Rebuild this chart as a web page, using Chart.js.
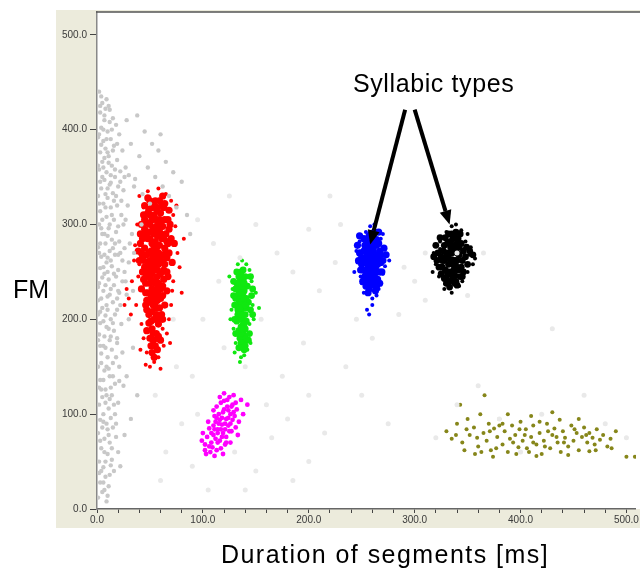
<!DOCTYPE html>
<html>
<head>
<meta charset="utf-8">
<script src="https://cdn.jsdelivr.net/npm/chart.js@4.4.1/dist/chart.umd.min.js"></script>
<style>
  html, body { margin: 0; padding: 0; background: #fff; }
  #wrap { position: relative; width: 640px; height: 571px; overflow: hidden; }
  canvas { position: absolute; left: 0; top: 0; }
  .lbl { position: absolute; font-family: 'Liberation Sans', Arial, sans-serif; font-size: 25px; line-height: 25px; color: #000; white-space: nowrap; }
</style>
</head>
<body>
<div id="wrap">
  <canvas id="c" width="640" height="571"></canvas>
  <div class="lbl" style="left:13px;top:277px">FM</div>
  <div class="lbl" style="left:353px;top:71px;letter-spacing:0.6px">Syllabic types</div>
  <div class="lbl" style="left:221px;top:542px;letter-spacing:1.45px">Duration of segments [ms]</div>
</div>
<script>
// axis ticks
const xTickStep = 20
const xLabelEvery = 100
const yTickStep = 100

// background cloud of unclassified segments (duration ms, FM)
const grayPts = [
  [2,440],[5,428],[9,432],[3,418],[12,421],[7,410],[15,412],[4,402],[10,398],[18,405],[1,392],[6,388],[13,390],[21,395],[8,380],[3,376],[16,383],[11,372],[24,378],[5,366],[14,362],[19,368],[2,358],[9,355],[27,360],[7,347],[17,350],[12,342],[22,345],[4,338],[30,352],[15,333],[1,330],[10,328],[25,336],[35,340],
  [6,322],[13,318],[3,314],[19,320],[9,308],[16,305],[2,300],[23,310],[11,296],[5,290],[18,292],[14,284],[8,280],[1,276],[21,282],[12,272],[4,266],[17,268],[9,260],[26,275],[3,254],[14,256],[7,248],[20,252],[11,242],[2,238],[16,236],[6,230],[24,240],[10,224],[1,220],[15,218],[5,212],[19,210],[8,204],[13,200],[28,226],[22,215],[3,196],[30,260],[33,290],[27,305],
  [9,192],[16,188],[2,184],[12,178],[6,172],[19,175],[4,164],[10,160],[15,154],[1,150],[7,146],[21,150],[12,140],[3,136],[17,132],[8,126],[5,118],[14,120],[2,110],[11,106],[20,112],[6,100],[25,130],[24,165],
  [3,94],[9,90],[15,86],[1,80],[7,74],[12,70],[4,64],[18,76],[10,58],[2,50],[14,52],[6,44],[8,34],[3,28],[11,24],[16,40],[5,18],[1,12],[9,8],[20,60],[7,60],[13,96],
  [38,415],[45,398],[52,385],[40,372],[58,378],[65,366],[48,360],[72,355],[36,348],[55,350],[62,340],[80,345],[43,332],[68,330],[50,322],[75,318],[85,310],[32,385],[28,410],[42,300],[88,290],[35,270],[60,395],[30,200],[34,170],[28,140],[32,95],[26,78],[38,120],
  [4,435],[11,425],[7,415],[14,400],[2,395],[19,385],[10,376],[6,360],[13,352],[20,340],[3,345],[8,332],[16,325],[23,325],[5,305],[12,300],[20,298],[7,290],[15,275],[3,280],[24,262],[10,265],[6,255],[18,245],[13,232],[4,222],[21,228],[9,215],[17,205],[1,205],[11,190],[23,195],[7,182],[14,168],[3,172],[18,160],[9,150],[13,128],[4,126],[16,110],[8,112],[10,84],[5,86],[14,64],[4,40],[12,36],[7,20],[17,100],[26,350],[29,320],[31,280],[26,250],[34,230],[20,230],
  [3,425],[8,422],[6,400],[12,408],[9,390],[4,384],[15,378],[11,365],[1,362],[17,358],[7,370],[13,344],[5,350],[10,338],[18,330],[2,322],[8,318],[14,310],[4,296],[10,288],[17,280],[2,270],[7,268],[13,262],[20,268],[5,244],[10,250],[16,248],[1,234],[8,236],[12,226],[19,222],[3,208],[10,210],[6,198],[15,196],[1,178],[8,170],[13,182],[4,154],[11,148],[6,136],[9,120],[15,140],[2,128],[12,116],[6,92],[11,78],[3,72],[8,50],[13,46],[2,38],[6,28],[10,14],[22,356],[25,300],[22,270],[27,240],[19,180],[21,135],[18,90],[22,45]
]
const faintPts = [
  [95,305],[110,280],[125,330],[150,300],[170,270],[185,250],[200,295],[210,230],[225,260],[195,175],[175,140],[160,110],[140,150],[120,170],[100,200],[90,140],[80,90],[130,60],[150,40],[105,20],[165,75],[180,95],[200,120],[215,80],[235,150],[245,200],[290,255],[300,240],[310,270],[285,205],[230,300],[260,180],[250,120],[275,90],[320,75],[340,110],[360,130],[380,95],[400,60],[420,100],[460,120],[480,90],[500,75],[430,190],[350,225],[365,270],[310,220],[200,50],[185,30],[140,20],[115,240],[135,265],[155,200],[95,100],[72,200],[65,60],[55,120],[75,150],[60,30],[90,45],[340,270],[220,330]
]
const redCore = [
  [55,255],[50,262],[60,248],[53,240],[58,270],[47,250],[62,260],[52,280],[57,232],[49,270],[64,275],[54,290],[46,238],[59,295],[51,225],[63,242],[56,305],[48,285],[61,285],[53,215],[57,220],[50,300],[66,265],[44,262],[58,258],[52,248],[55,272],[60,232],[48,228],[54,310],[62,298],[47,210],[56,205],[51,198],[59,212],[45,275],[65,290],[53,265],[57,245],[50,238],[61,268],[54,228],[49,292],[63,252],[55,282],[58,300],[46,248],[52,318],[60,312],[67,280],[43,285],[51,272],[56,262],[59,278],[53,252],[48,260],[62,225],[55,238],[50,250],[57,288],[54,200],[52,190],[58,195],[49,205],[55,218],[61,205],[47,220],[45,295],[64,305],[68,295],[66,250],[42,270],[57,315],[53,322],[50,310],[59,325],[63,318],[56,228],[51,242],[58,265],[54,275],[60,290],[47,302],[53,296],[56,185],[50,180],[55,172],[52,165],
  [54,258],[51,255],[57,252],[53,268],[56,275],[49,245],[58,238],[52,232],[55,292],[60,265],[47,268],[63,285],[50,285],[56,298],[52,305],[59,305],[48,312],[61,320],[55,325],[50,325],[45,305],[65,270],[64,258],[45,255],[44,242],[46,228],[62,235],[60,222],[56,212],[52,208],[50,218],[58,226],[54,222],[49,196],[57,200],[53,185],[58,182],[51,172],[54,160],[57,168],[53,178],[46,290],[66,282],[60,300],[43,250],[67,305],[41,290],[56,318],[49,316],
  [42,300],[41,280],[43,265],[44,310],[69,300],[70,285],[68,270],[71,260],[67,245],[42,232],[66,230],[45,320],[64,322],[68,315],[40,262],[73,280],[39,272],[62,330],[48,328],[46,215],[64,215],[62,200],[47,188],[60,178]
]
const redOut = [
  [40,330],[48,335],[58,338],[70,325],[72,310],[38,300],[74,298],[36,278],[76,270],[40,258],[33,240],[28,232],[30,222],[37,215],[72,240],[78,255],[80,228],[70,215],[68,200],[42,195],[44,180],[66,185],[63,172],[47,165],[58,160],[54,155],[50,150],[60,148],[46,152],[35,262],[82,285],[75,320],[44,318],[65,332],[71,230],[39,245],[26,215],[32,205],[69,175],[41,168],[57,178],[62,190]
]
const greenCore = [
  [137,211],[134,220],[140,205],[136,230],[139,195],[133,210],[141,222],[135,240],[138,185],[132,198],[142,235],[136,250],[139,178],[134,188],[140,245],[137,225],[135,202],[141,212],[133,232],[138,240],[136,192],[139,230],[134,215],[140,190],[137,200],[135,180],[138,252],[131,222],[143,218],[136,172],[139,168],[134,245],[141,198],[132,238],[137,235],[138,215],[135,225],[140,182],[133,205],
  [137,218],[136,205],[138,228],[135,212],[139,238],[137,245],[136,185],[138,195],[134,228],[140,215],[136,175],[138,205],[135,248],[137,190],[139,222],
  [130,215],[131,232],[130,200],[146,225],[145,210],[147,232],[144,185],[129,240],[145,245],[131,185],[143,178],[132,250],[147,205],[129,225],[134,170],[140,172]
]
const greenOut = [
  [128,232],[127,210],[146,240],[147,215],[144,195],[129,190],[131,175],[145,175],[137,262],[133,258],[141,258],[150,228],[125,245],[130,165],[136,160],[142,168],[148,200],[126,200],[144,252],[135,155],[139,162],[153,212]
]
const blueCore = [
  [259,261],[255,268],[263,255],[257,250],[261,272],[253,260],[265,265],[258,280],[262,245],[256,240],[264,278],[252,272],[266,250],[259,290],[257,232],[261,286],[254,250],[260,255],[256,262],[263,268],[250,265],[268,260],[258,244],[262,238],[255,283],[265,242],[253,245],[260,275],[258,268],[262,262],[257,258],[267,272],[251,252],[264,284],[256,228],
  [259,268],[256,255],[261,250],[254,265],[263,262],[258,272],[260,282],[257,288],[253,278],[265,258],[261,240],[255,245],[250,258],[268,268],[266,280],[259,236],[263,230],[252,285],[257,275],[262,292],
  [247,262],[248,270],[249,252],[270,262],[271,275],[269,250],[246,278],[251,240],[267,238],[273,268],[248,288],[266,292],[254,235],[264,235]
]
const blueOut = [
  [246,260],[245,272],[270,248],[272,268],[250,238],[268,285],[258,298],[262,300],[254,292],[248,282],[266,232],[252,228],[260,222],[272,256],[243,250],[276,262],[255,210],[260,215],[257,205],[264,225],[249,245],[270,290]
]
const blackCore = [
  [335,263],[331,270],[339,256],[333,250],[337,275],[328,262],[342,268],[334,282],[338,246],[330,244],[340,280],[327,272],[344,255],[335,290],[333,240],[338,286],[329,252],[336,258],[332,264],[340,270],[325,266],[345,262],[334,248],[339,240],[331,280],[343,245],[328,243],[336,278],[334,270],[338,262],[346,272],[326,255],[341,285],
  [335,270],[332,258],[337,252],[330,266],[340,262],[334,276],[336,285],[332,290],[328,278],[342,276],[338,238],[331,248],[326,262],[344,280],[346,250],[336,244],[339,292],[329,286],[333,234],[341,252],
  [321,262],[322,270],[323,255],[348,266],[350,258],[349,276],[320,278],[325,248],[345,245],[352,272],[324,286],[343,290],[330,238],[340,236],[318,266],[355,268]
]
const blackOut = [
  [320,258],[318,270],[350,250],[352,268],[323,245],[348,282],[335,298],[339,300],[330,292],[324,282],[342,235],[328,232],[335,228],[355,258],[317,250],[357,264],[345,240],[324,274],[350,290],[344,294],[329,237],[353,276]
]
const magentaPts = [
  [118,89],[122,95],[114,84],[126,100],[110,78],[120,105],[116,72],[124,88],[112,92],[128,110],[119,80],[108,70],[123,115],[130,98],[115,100],[106,85],[121,68],[113,62],[127,82],[117,112],[132,105],[125,118],[111,98],[104,76],[109,65],[119,58],[134,92],[129,120],[115,90],[122,76],[107,60],[102,68],[100,80],[113,108],[136,115],[120,122],[126,70],[110,88],[131,86],[117,64],[105,92],[124,104],[112,74],[128,94],[138,100],[142,110],[116,118],[103,58],[99,72],[121,84],[118,96],[114,80],[127,108],[111,56],[133,78],
  [116,94],[121,90],[124,96],[119,102],[113,96],[125,82],[118,76],[111,84],[108,80],[123,108],[129,102],[114,70],[106,66],[120,114],[131,112],[102,62],[110,104],[126,90],[117,84],[122,70]
]
const olivePts = [
  [330,82],[335,74],[340,90],[345,70],[350,95],[352,78],[356,86],[360,66],[362,100],[365,80],[368,72],[370,90],[372,62],[375,85],[378,76],[380,95],[383,68],[385,82],[388,60],[390,74],[392,88],[395,78],[398,65],[400,92],[402,72],[405,84],[408,60],[410,76],[412,88],[415,68],[418,80],[420,58],[422,72],[425,90],[428,64],[430,78],[432,85],[435,70],[438,60],[440,82],[442,75],[445,66],[448,88],[450,72],[453,80],[455,62],[458,76],[460,86],[463,70],[465,80],[468,75],[470,68],[472,84],[475,73],[478,78],[482,66],[485,74],[490,82],[343,110],[366,120],[388,100],[410,98],[430,102],[455,95],[347,62],[357,58],[374,55],[396,58],[415,56],[445,57],[465,61],[383,90],[399,84],[418,92],[437,94],[359,75],[371,82],[393,70],[406,64],[426,82],[451,84],[462,78],[339,78],[349,84],[363,60],[380,88],[404,78],[423,66],[441,70],[471,62],[500,55],[508,55],[486,64],[377,64],[412,70],[434,76]
]

// annotation arrows, in data units: [fromX, fromY, toX, toY]
const arrows = [
  [291, 421, 258, 279],
  [300, 421, 333, 300]
]

const toXY = pts => pts.map(p => ({ x: p[0], y: p[1] }))

function ds(pts, color, r) {
  return {
    data: toXY(pts),
    backgroundColor: color,
    borderColor: color,
    borderWidth: 0,
    pointRadius: r,
    pointHoverRadius: r
  }
}

const frame = {
  id: 'frame',
  beforeDraw(chart) {
    const { ctx, chartArea: a } = chart
    ctx.save()
    ctx.fillStyle = '#fff'
    ctx.fillRect(0, 0, chart.width, chart.height)
    ctx.fillStyle = '#ecebdc'
    ctx.fillRect(56, 10, chart.width - 56, 518)
    ctx.fillStyle = '#fff'
    ctx.fillRect(a.left, a.top, chart.width - a.left, a.bottom - a.top)
    ctx.restore()
  },
  afterDatasetsDraw(chart) {
    const { ctx, chartArea: a, scales: { x, y } } = chart
    ctx.save()
    ctx.strokeStyle = '#555'
    ctx.lineWidth = 1.5
    ctx.beginPath()
    ctx.moveTo(a.left - 1, a.top)
    ctx.lineTo(chart.width, a.top)
    ctx.stroke()
    // arrows
    ctx.strokeStyle = '#000'
    ctx.fillStyle = '#000'
    ctx.lineWidth = 4
    arrows.forEach(([x0, y0, x1, y1]) => {
      const px0 = x.getPixelForValue(x0), py0 = y.getPixelForValue(y0)
      const px1 = x.getPixelForValue(x1), py1 = y.getPixelForValue(y1)
      const ang = Math.atan2(py1 - py0, px1 - px0)
      const hl = 14, hw = 6
      const bx = px1 - hl * Math.cos(ang), by = py1 - hl * Math.sin(ang)
      ctx.beginPath()
      ctx.moveTo(px0, py0)
      ctx.lineTo(bx, by)
      ctx.stroke()
      ctx.beginPath()
      ctx.moveTo(px1, py1)
      ctx.lineTo(bx + hw * Math.sin(ang), by - hw * Math.cos(ang))
      ctx.lineTo(bx - hw * Math.sin(ang), by + hw * Math.cos(ang))
      ctx.closePath()
      ctx.fill()
    })
    ctx.restore()
  }
}

const tickFont = { family: "'Liberation Sans', Arial, sans-serif", size: 10 }

new Chart(document.getElementById('c'), {
  type: 'scatter',
  data: {
    datasets: [
      ds(faintPts, '#e9e9e9', 2.5),
      ds(grayPts, '#c8c8c8', 2.2),
      ds(redOut, '#ff0000', 2),
      ds(redCore, '#ff0000', 3.6),
      ds(greenOut, '#10e810', 2),
      ds(greenCore, '#10e810', 3.4),
      ds(blueOut, '#0000ff', 2),
      ds(blueCore, '#0000ff', 3.6),
      ds(blackOut, '#000000', 2),
      ds(blackCore, '#000000', 3.4),
      ds(magentaPts, '#ff00ff', 2.4),
      ds(olivePts, '#86861a', 2)
    ]
  },
  options: {
    responsive: false,
    animation: false,
    devicePixelRatio: 1,
    layout: { padding: { top: 12, right: 0, left: 0, bottom: 0 } },
    plugins: { legend: { display: false }, tooltip: { enabled: false } },
    scales: {
      x: {
        type: 'linear',
        min: 0,
        max: 509,
        afterFit: s => { s.height = 62 },
        grid: { drawOnChartArea: false, tickLength: 4, color: '#444', lineWidth: 1 },
        border: { color: '#666', width: 1.5 },
        ticks: {
          stepSize: xTickStep,
          includeBounds: false,
          autoSkip: false,
          maxRotation: 0,
          padding: 1,
          color: '#3a3a3a',
          font: tickFont,
          callback: v => v % xLabelEvery === 0 ? v.toFixed(1) : ''
        }
      },
      y: {
        type: 'linear',
        min: 0,
        max: 524,
        afterFit: s => { s.width = 97 },
        grid: { drawOnChartArea: false, tickLength: 7, color: '#444', lineWidth: 1 },
        border: { color: '#888', width: 1.5 },
        ticks: {
          stepSize: yTickStep,
          includeBounds: false,
          padding: 3,
          color: '#3a3a3a',
          font: tickFont,
          callback: v => v.toFixed(1)
        }
      }
    }
  },
  plugins: [frame]
})
</script>
</body>
</html>
